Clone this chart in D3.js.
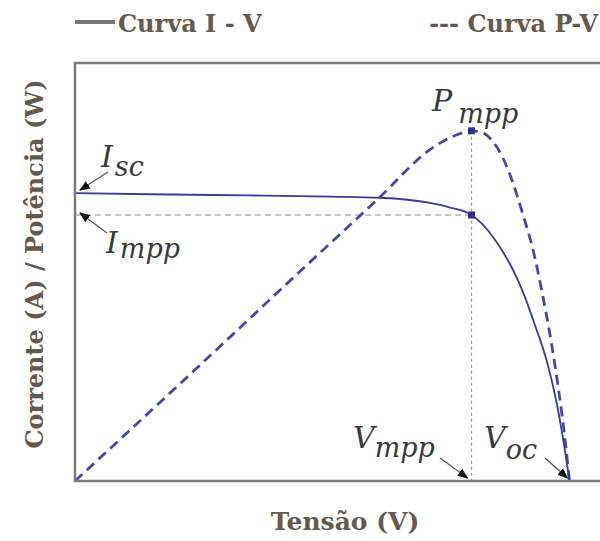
<!doctype html>
<html lang="pt">
<head>
<meta charset="UTF-8">
<title>Curva I-V / P-V</title>
<script src="https://d3js.org/d3.v7.min.js"></script>
<style>
  body { margin: 0; background: #fff; }
  .lbl { font-family: "DejaVu Serif", serif; font-weight: bold; fill: #64594f; }
  .ann { font-family: "DejaVu Serif", serif; font-style: italic; fill: #3a3a3a; }
</style>
</head>
<body>
<div id="chart"></div>
<script>
// values: tension (V), current (A), power (W)
var ivVolts = [0, 3.28, 7.65, 11.15, 13.34, 15.52, 16.40, 17.34, 17.71, 18.50, 19.11, 19.55, 20.11, 20.64, 21.08, 21.38, 21.62];
var ivAmps  = [5.00, 4.98, 4.96, 4.94, 4.92, 4.83, 4.75, 4.62, 4.50, 4.11, 3.70, 3.32, 2.71, 2.07, 1.32, 0.64, 0];

var pvVolts = [0, 5.47, 9.84, 13.34, 15.52, 16.70, 17.34, 17.71, 18.28, 18.71, 19.15, 19.59, 20.03, 20.42, 20.81, 21.16, 21.43, 21.62];
var pvWatts = [0, 26.5, 47.9, 64.9, 75.7, 79.1, 80.0, 79.8, 77.5, 73.8, 68.1, 60.8, 52.8, 43.2, 32.2, 20.3, 9.4, 0];

var Vmpp = 17.34, Impp = 4.62, Pmpp = 80.0, Isc = 5.00, Voc = 21.62;

var legendLabels = ["Curva I - V", "--- Curva P-V"];
var xTitle = "Tensão (V)";
var yTitle = "Corrente (A) / Potência (W)";

var width = 600, height = 541;
var margin = {top: 63, right: -1, bottom: 60, left: 75};

var svg = d3.select("#chart").append("svg")
    .attr("width", width)
    .attr("height", height);

var x = d3.scaleLinear().domain([0, 23]).range([margin.left, width - margin.right]);
var yI = d3.scaleLinear().domain([0, 7.26]).range([height - margin.bottom, margin.top]);
var yP = d3.scaleLinear().domain([0, 95.5]).range([height - margin.bottom, margin.top]);

var ivData = ivVolts.map(function(v, i) { return [v, ivAmps[i]]; });
var pvData = pvVolts.map(function(v, i) { return [v, pvWatts[i]]; });

var blue = "#3c3c98";

// arrow head
svg.append("defs").append("marker")
    .attr("id", "arr")
    .attr("viewBox", "0 0 10 10")
    .attr("refX", 9).attr("refY", 5)
    .attr("markerWidth", 9).attr("markerHeight", 9)
    .attr("orient", "auto")
    .append("path")
    .attr("d", "M0,1 L10,5 L0,9 Z")
    .attr("fill", "#111");

// guide lines to the mpp
svg.append("line")
    .attr("x1", x(0)).attr("x2", x(Vmpp))
    .attr("y1", yI(Impp)).attr("y2", yI(Impp))
    .attr("stroke", "#b4b4b4").attr("stroke-width", 1.5)
    .attr("stroke-dasharray", "6,4");
svg.append("line")
    .attr("x1", x(Vmpp)).attr("x2", x(Vmpp))
    .attr("y1", yP(Pmpp)).attr("y2", yI(0))
    .attr("stroke", "#9a9a9a").attr("stroke-width", 1.2)
    .attr("stroke-dasharray", "3,3");

// curves
var ivLine = d3.line().x(function(d) { return x(d[0]); }).y(function(d) { return yI(d[1]); }).curve(d3.curveMonotoneX);
var pvLine = d3.line().x(function(d) { return x(d[0]); }).y(function(d) { return yP(d[1]); }).curve(d3.curveMonotoneX);

svg.append("path").datum(pvData)
    .attr("d", pvLine)
    .attr("fill", "none")
    .attr("stroke", "#4848a4")
    .attr("stroke-width", 2.8)
    .attr("stroke-dasharray", "10,6");

svg.append("path").datum(ivData)
    .attr("d", ivLine)
    .attr("fill", "none")
    .attr("stroke", blue)
    .attr("stroke-width", 1.8);

// mpp markers
svg.selectAll(".mpp").data([[Vmpp, yI(Impp)], [Vmpp, yP(Pmpp)]])
    .enter().append("rect")
    .attr("class", "mpp")
    .attr("x", function(d) { return x(d[0]) - 3.5; })
    .attr("y", function(d) { return d[1] - 3.5; })
    .attr("width", 7).attr("height", 7)
    .attr("fill", "#2c2f8c");

// frame (left, top, bottom)
svg.append("path")
    .attr("d", "M" + width + "," + yI(7.26) + " L" + x(0) + "," + yI(7.26) + " L" + x(0) + "," + yI(0) + " L" + width + "," + yI(0))
    .attr("fill", "none")
    .attr("stroke", "#7c7c7c")
    .attr("stroke-width", 2.5);

// annotations
function subLabel(main, sub, px, py, dx, dy) {
    var t = svg.append("text").attr("class", "ann").attr("x", px).attr("y", py);
    t.append("tspan").attr("font-size", 30).text(main);
    t.append("tspan").attr("font-size", 27).attr("dx", dx).attr("dy", dy).text(sub);
}
subLabel("I", "sc", 101, 167, 2, 9);
subLabel("I", "mpp", 106, 253, 2, 5);
subLabel("P", "mpp", 432, 111, 6, 12);
subLabel("V", "mpp", 353, 448, 0, 9);
subLabel("V", "oc", 484, 448, 0, 11);

function arrow(x1, y1, x2, y2) {
    svg.append("line")
        .attr("x1", x1).attr("y1", y1).attr("x2", x2).attr("y2", y2)
        .attr("stroke", "#555").attr("stroke-width", 1.2)
        .attr("marker-end", "url(#arr)");
}
arrow(108, 172, x(0) + 5, yI(Isc) - 3);
arrow(107, 233, x(0) + 5, yI(Impp) - 2);
arrow(440, 458, x(Vmpp) - 4, yI(0) - 3);
arrow(545, 458, x(Voc) - 2, yI(0) - 3);

// legend
svg.append("line")
    .attr("x1", 75).attr("x2", 115).attr("y1", 22).attr("y2", 22)
    .attr("stroke", "#777").attr("stroke-width", 4);
svg.append("text").attr("class", "lbl")
    .attr("x", 118).attr("y", 32)
    .attr("font-size", 24)
    .text(legendLabels[0]);
svg.append("text").attr("class", "lbl")
    .attr("x", 598).attr("y", 32)
    .attr("text-anchor", "end")
    .attr("font-size", 24)
    .text(legendLabels[1]);

// axis titles
svg.append("text").attr("class", "lbl")
    .attr("x", 345).attr("y", 530)
    .attr("text-anchor", "middle")
    .attr("font-size", 25)
    .text(xTitle);
svg.append("text").attr("class", "lbl")
    .attr("transform", "translate(43,264) rotate(-90)")
    .attr("text-anchor", "middle")
    .attr("font-size", 24)
    .text(yTitle);
</script>
</body>
</html>
